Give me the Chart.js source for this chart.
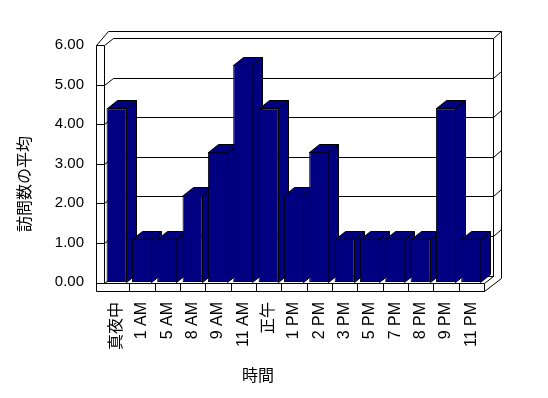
<!DOCTYPE html>
<html>
<head>
<meta charset="utf-8">
<script src="https://cdn.jsdelivr.net/npm/chart.js@4"></script>
<style>
  html, body { margin: 0; padding: 0; background: #fff; }
  #wrap { width: 548px; height: 398px; }
</style>
</head>
<body>
<div id="wrap"><canvas id="chart" width="548" height="398"></canvas></div>
<script>
// Data
const hours     = ['真夜中', '1 AM', '5 AM', '8 AM', '9 AM', '11 AM', '正午', '1 PM', '2 PM', '3 PM', '5 PM', '7 PM', '8 PM', '9 PM', '11 PM'];
const avgVisits = [4.4, 1.1, 1.1, 2.2, 3.3, 5.5, 4.4, 2.2, 3.3, 1.1, 1.1, 1.1, 1.1, 4.4, 1.1];
const yMin = 0, yMax = 6, yStep = 1;
const xTitle = '時間';
const yTitle = '訪問数の平均';

const NAVY = '#000080';
const FONT = "'Liberation Sans', 'Noto Sans CJK JP', sans-serif";

Chart.defaults.font.family = FONT;
Chart.defaults.color = '#000';

const px = v => Math.round(v) + 0.5;

// Excel-like 3D box: walls, floor, gridlines and bar sides/tops
const box3d = {
  id: 'box3d',
  beforeDatasetsDraw(chart) {
    const ctx = chart.ctx;
    const a = chart.chartArea;
    const L = a.left, R = a.right, T = a.top, B = a.bottom;
    const yS = chart.scales.y, xS = chart.scales.x;

    ctx.save();
    ctx.strokeStyle = '#000';
    ctx.lineWidth = 1;
    const line = (x1, y1, x2, y2) => {
      ctx.beginPath();
      ctx.moveTo(px(x1), px(y1));
      ctx.lineTo(px(x2), px(y2));
      ctx.stroke();
    };

    // left wall
    line(L - 8, T, L - 8, B + 9);
    line(L, T, L, B + 1);
    line(L - 8, T, L, T);
    line(L - 8, T, L + 4, T - 14);
    line(L, T, L + 9, T - 7);
    line(L, B + 1, L + 9, B - 6);
    // back wall
    line(L + 4, T - 14, R + 17, T - 14);
    line(L + 9, T - 7, R + 9, T - 7);
    line(R + 9, T - 7, R + 17, T - 14);
    line(R + 9, T - 7, R + 9, B - 6);
    line(R + 17, T - 14, R + 17, B - 4);
    // floor
    line(L - 8, B + 1, R, B + 1);
    line(L - 8, B + 9, R, B + 9);
    line(R, B + 1, R, B + 9);
    line(R, B + 1, R + 9, B - 6);
    line(R, B + 9, R + 17, B - 4);
    line(L + 9, B - 6, R + 9, B - 6);

    // gridlines
    yS.ticks.forEach(t => {
      if (t.value <= yMin || t.value >= yMax) return;
      const y = yS.getPixelForValue(t.value);
      line(L - 8, y, L, y);
      line(L, y, L + 9, y - 7);
      line(L + 9, y - 7, R + 9, y - 7);
      line(R + 9, y - 7, R + 17, y - 14);
    });

    // category ticks on the floor front
    const catW = (R - L) / hours.length;
    for (let i = 1; i < hours.length; i++) {
      const x = xS.getPixelForValue(i) - catW / 2;
      line(x, B + 1, x, B + 9);
    }

    // bar sides and tops, left to right
    const DX = 10, DY = 8;
    const meta = chart.getDatasetMeta(0);
    ctx.fillStyle = NAVY;
    meta.data.forEach(bar => {
      const p = bar.getProps(['x', 'y', 'base', 'width'], true);
      const l = Math.round(p.x - p.width / 2) + 0.5;
      const r = Math.round(p.x + p.width / 2) - 0.5;
      const t = Math.round(p.y) + 0.5;
      const b = Math.round(p.base) + 0.5;
      ctx.beginPath();
      ctx.moveTo(r, t); ctx.lineTo(r + DX, t - DY); ctx.lineTo(r + DX, b - DY); ctx.lineTo(r, b);
      ctx.closePath(); ctx.fill(); ctx.stroke();
      ctx.beginPath();
      ctx.moveTo(l, t); ctx.lineTo(l + DX, t - DY); ctx.lineTo(r + DX, t - DY); ctx.lineTo(r, t);
      ctx.closePath(); ctx.fill(); ctx.stroke();
    });
    ctx.restore();
  },
  afterDraw(chart) {
    const ctx = chart.ctx;
    ctx.save();
    ctx.fillStyle = '#000';
    ctx.font = "16px 'Noto Sans CJK JP', sans-serif";
    ctx.textAlign = 'center';
    ctx.textBaseline = 'middle';
    ctx.fillText(xTitle, 258, 375);
    ctx.translate(24, 184);
    ctx.rotate(-Math.PI / 2);
    ctx.fillText(yTitle, 0, 0);
    ctx.restore();
  }
};

new Chart(document.getElementById('chart'), {
  type: 'bar',
  data: {
    labels: hours,
    datasets: [{
      data: avgVisits,
      backgroundColor: NAVY,
      borderColor: '#000',
      borderWidth: 1,
      borderSkipped: false,
      categoryPercentage: 1,
      barPercentage: 0.8,
    }]
  },
  options: {
    responsive: false,
    animation: false,
    layout: { padding: { top: 45, right: 64, left: 0, bottom: 0 } },
    plugins: {
      legend: { display: false },
      tooltip: { enabled: false }
    },
    scales: {
      x: {
        grid: { display: false, drawTicks: false },
        border: { display: false },
        ticks: { minRotation: 90, maxRotation: 90, padding: 20, autoSkip: false, font: { size: 16 } },
        afterFit: s => { s.height = 116; }
      },
      y: {
        min: yMin,
        max: yMax,
        grid: { display: false, drawTicks: false },
        border: { display: false },
        ticks: { stepSize: yStep, padding: 20, font: { size: 15 }, callback: v => Number(v).toFixed(2) },
        afterFit: s => { s.width = 104; }
      }
    }
  },
  plugins: [box3d]
});
</script>
</body>
</html>
